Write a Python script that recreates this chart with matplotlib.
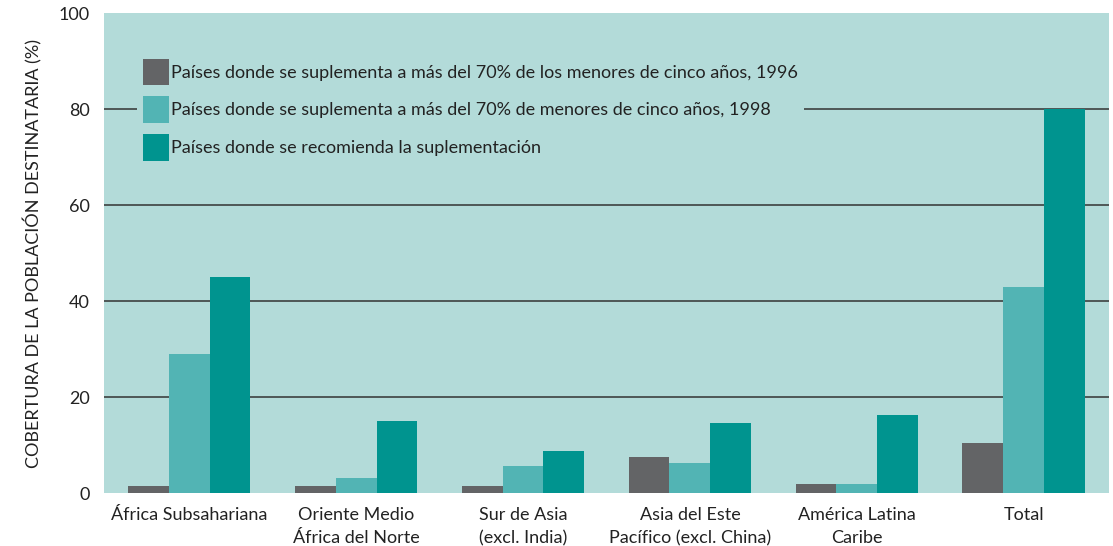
import numpy as np
import matplotlib.pyplot as plt

plt.rcParams['font.family'] = ['Lato', 'DejaVu Sans']

categories = ["África Subsahariana", "Oriente Medio\nÁfrica del Norte", "Sur de Asia\n(excl. India)",
              "Asia del Este\nPacífico (excl. China)", "América Latina\nCaribe", "Total"]
supl_1996 = [1.5, 1.5, 1.5, 7.5, 1.8, 10.5]
supl_1998 = [29, 3.2, 5.7, 6.3, 1.8, 43]
recomendada = [45, 15, 8.7, 14.6, 16.2, 80]

series_labels = [
    "Países donde se suplementa a más del 70% de los menores de cinco años, 1996",
    "Países donde se suplementa a más del 70% de menores de cinco años, 1998",
    "Países donde se recomienda la suplementación",
]
colors = ["#636466", "#52b4b4", "#00948f"]
bg = "#b3dbd9"

fig = plt.figure(figsize=(11.13, 5.46), dpi=100)
ax = fig.add_axes([0.0934, 0.097, 0.903, 0.879])
ax.set_facecolor(bg)

x = np.arange(len(categories))
w = 0.245
for i, (vals, lab, col) in enumerate(zip([supl_1996, supl_1998, recomendada], series_labels, colors)):
    ax.bar(x + (i - 1) * w, vals, w, color=col, label=lab, zorder=3)

ax.set_xlim(-0.51, 5.51)
ax.set_ylim(0, 100)
ax.set_yticks([0, 20, 40, 60, 80, 100])
ax.set_xticks(x)
ax.set_xticklabels(categories, fontsize=13, color="#222222", linespacing=1.55)
ax.tick_params(axis='both', length=0, labelsize=13, colors="#222222")
ax.tick_params(axis='x', pad=10)
ax.tick_params(axis='y', pad=10)
for yv in [20, 40, 60, 80]:
    ax.axhline(yv, color="#333333", lw=1.1, zorder=1)
for s in ax.spines.values():
    s.set_visible(False)

ax.set_ylabel("COBERTURA DE LA POBLACIÓN DESTINATARIA (%)", fontsize=13, color="#222222", labelpad=12)

leg = ax.legend(loc="upper left", bbox_to_anchor=(0.024, 0.935), fontsize=13, frameon=True,
                facecolor=bg, edgecolor=bg, framealpha=1, handlelength=1.45, handleheight=1.9,
                handletextpad=0.15, labelspacing=0.6, borderpad=0.3, fancybox=False)
leg.get_frame().set_linewidth(0)
leg.set_zorder(5)
for t in leg.get_texts():
    t.set_color("#222222")

fig.savefig("out.png", dpi=100)
